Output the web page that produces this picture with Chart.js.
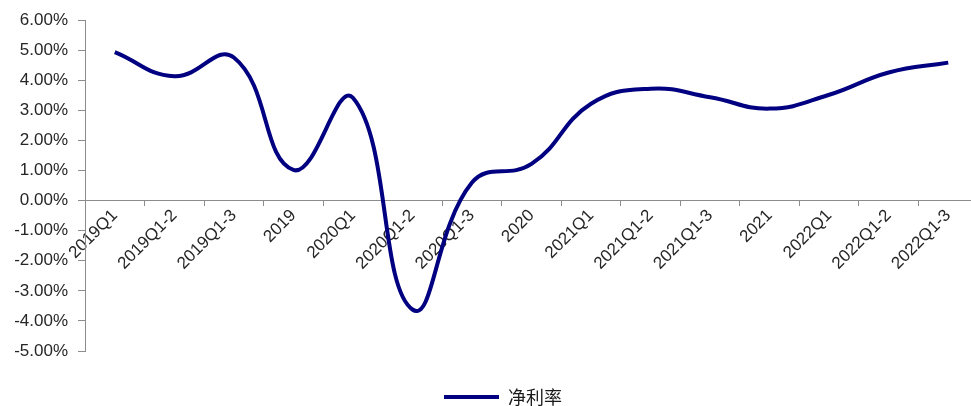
<!DOCTYPE html>
<html>
<head>
<meta charset="utf-8">
<script src="https://cdn.jsdelivr.net/npm/chart.js@4.4.0/dist/chart.umd.min.js"></script>
<style>
    html, body { margin: 0; padding: 0; background: #fff; overflow: hidden; }
    #wrap { width: 980px; height: 406px; }
</style>
</head>
<body>
<div id="wrap"><canvas id="profitChart"></canvas></div>
<script>
// 净利率 by reporting period
const periods = ['2019Q1', '2019Q1-2', '2019Q1-3', '2019', '2020Q1', '2020Q1-2', '2020Q1-3', '2020',
    '2021Q1', '2021Q1-2', '2021Q1-3', '2021', '2022Q1', '2022Q1-2', '2022Q1-3'];
const netMargin = [4.94, 4.14, 4.76, 1.02, 3.42, -3.62, 0.6, 1.22,
    3.22, 3.72, 3.44, 3.06, 3.52, 4.26, 4.59];
const seriesName = '净利率';

const tickFont = { family: 'Liberation Sans, Arial', size: 17 };

// nudge the legend a bit to the right of centre
const legendShift = {
    id: 'legendShift',
    afterLayout(chart) {
        chart.legend.left += 14;
        chart.legend.right += 14;
    }
};

var ctx = document.getElementById('profitChart').getContext('2d');

const profitChart = new Chart(ctx, {
    type: 'line',
    data: {
        labels: periods,
        datasets: [{
            label: seriesName,
            data: netMargin,
            borderColor: '#000080',
            backgroundColor: '#000080',
            borderWidth: 4,
            tension: 0.45,
            pointRadius: 0,
            pointStyle: 'line',
            fill: false,
        }]
    },
    options: {
        responsive: true,
        maintainAspectRatio: false,
        animation: false,
        layout: {
            padding: { top: 12, right: 2, bottom: -10, left: 0 }
        },
        scales: {
            x: {
                position: { y: 0 },
                offset: true,
                grid: {
                    offset: true,
                    drawOnChartArea: false,
                    tickLength: 5,
                    tickColor: '#8c8c8c',
                },
                border: { color: '#8c8c8c', width: 1 },
                ticks: {
                    autoSkip: false,
                    minRotation: 45,
                    maxRotation: 45,
                    padding: 0,
                    color: '#262626',
                    font: tickFont,
                }
            },
            y: {
                min: -5,
                max: 6,
                afterFit: function (scale) { scale.width = 85; },
                grid: {
                    drawOnChartArea: false,
                    tickLength: 7,
                    tickColor: '#8c8c8c',
                },
                border: { color: '#8c8c8c', width: 1 },
                ticks: {
                    stepSize: 1,
                    padding: 10,
                    color: '#262626',
                    font: tickFont,
                    callback: function (v) { return v.toFixed(2) + '%'; }
                }
            }
        },
        plugins: {
            legend: {
                position: 'bottom',
                title: {
                    display: true,
                    text: ' ',
                    padding: 9.5,
                    font: { size: 10 },
                },
                labels: {
                    usePointStyle: true,
                    pointStyle: 'line',
                    pointStyleWidth: 55,
                    padding: 6,
                    color: '#1a1a1a',
                    font: { family: 'Noto Sans CJK SC', size: 18 },
                }
            },
            tooltip: { enabled: false }
        }
    },
    plugins: [legendShift]
})
</script>
</body>
</html>
